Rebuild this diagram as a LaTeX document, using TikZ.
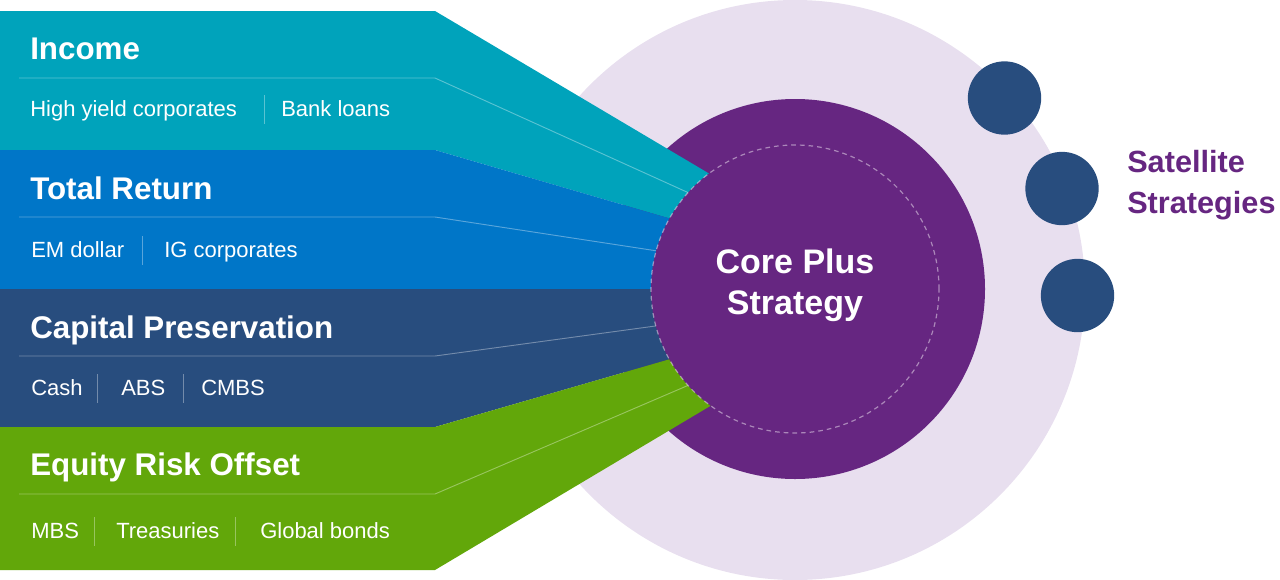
\documentclass[tikz,border=0pt]{standalone}
\usepackage{fontspec}
\setmainfont{Liberation Sans}
\usepackage{xcolor}
\usepackage{tikz}

\definecolor{incomecol}{HTML}{00A3BB}
\definecolor{returncol}{HTML}{0076C8}
\definecolor{capitalcol}{HTML}{284D7E}
\definecolor{equitycol}{HTML}{62A70A}
\definecolor{corecol}{HTML}{662681}
\definecolor{halocol}{HTML}{E8DFEF}

\tikzset{
  divider/.style={white, opacity=0.35, line width=0.7pt},
  sepline/.style={white, opacity=0.35, line width=0.7pt},
  title/.style={anchor=base west, inner sep=0pt, text=white, font=\fontsize{23.5}{28}\selectfont\bfseries},
  item/.style={anchor=base west, inner sep=0pt, text=white, font=\fontsize{16.5}{20}\selectfont},
  disc/.style={circle, inner sep=0pt, draw=none},
  coretext/.style={anchor=base, inner sep=0pt, text=white, font=\fontsize{25.5}{30}\selectfont\bfseries},
  sattext/.style={anchor=base west, inner sep=0pt, text=corecol, font=\fontsize{23}{28}\selectfont\bfseries},
}

\begin{document}
\begin{tikzpicture}[x=0.75pt, y=-0.75pt]
    \useasboundingbox (0,0) rectangle (1280,579);

    % Halo and satellites
    \node[disc, fill=halocol, minimum size=435pt] (halo) at (795,290) {};
    \node[disc, fill=capitalcol, minimum size=55pt] (sat1) at (1004.5,98) {};
    \node[disc, fill=capitalcol, minimum size=55pt] (sat2) at (1062,188.5) {};
    \node[disc, fill=capitalcol, minimum size=55pt] (sat3) at (1077.5,295.5) {};
    \node[sattext] (satA) at (1127,172) {Satellite};
    \node[sattext] (satB) at (1127,213) {Strategies};

    % Core
    \node[disc, fill=corecol, minimum size=285pt] (core) at (795,289) {};

    % Income
    \fill[incomecol] (0,11) -- (435,11) -- (795,224.5) -- (795,255) -- (435,150) -- (0,150) -- cycle;
    \draw[divider] (19,78) -- (435,78) -- (795,241);
    \node[title] (income) at (30,59) {Income};
    \node[item] (hyc) at (30,116) {High yield corporates};
    \draw[sepline] (264,95) -- (264,124);
    \node[item] (loans) at (281,116) {Bank loans};

    % Total Return
    \fill[returncol] (0,150) -- (435,150) -- (795,255) -- (795,289) -- (0,289) -- cycle;
    \draw[divider] (19,217) -- (435,217) -- (795,272);
    \node[title] (total) at (30,199) {Total Return};
    \node[item] (em) at (31,257) {EM dollar};
    \draw[sepline] (142,236) -- (142,265);
    \node[item] (ig) at (164,257) {IG corporates};

    % Capital Preservation
    \fill[capitalcol] (0,289) -- (795,289) -- (795,323) -- (435,427) -- (0,427) -- cycle;
    \draw[divider] (19,356) -- (435,356) -- (795,307);
    \node[title] (capital) at (30,338) {Capital Preservation};
    \node[item] (cash) at (31,395) {Cash};
    \draw[sepline] (97,374) -- (97,403);
    \node[item] (abs) at (121,395) {ABS};
    \draw[sepline] (183,374) -- (183,403);
    \node[item] (cmbs) at (201,395) {CMBS};

    % Equity Risk Offset
    \fill[equitycol] (0,427) -- (435,427) -- (795,323) -- (795,355.5) -- (435,570) -- (0,570) -- cycle;
    \draw[divider] (19,494) -- (435,494) -- (795,339.5);
    \node[title] (equity) at (30,475) {Equity Risk Offset};
    \node[item] (mbs) at (31,538) {MBS};
    \draw[sepline] (94,517) -- (94,546);
    \node[item] (tsy) at (116,538) {Treasuries};
    \draw[sepline] (235,517) -- (235,546);
    \node[item] (glob) at (260,538) {Global bonds};

    % Inner ring
    \node[disc, fill=corecol, minimum size=216pt] (inner) at (795,289) {};
    \node[disc, draw=white, draw opacity=0.45, dash pattern=on 3.5pt off 3pt, line width=0.9pt, minimum size=216pt] (ring) at (795,289) {};
    \node[coretext] (coreA) at (795,273) {Core Plus};
    \node[coretext] (coreB) at (795,314) {Strategy};
\end{tikzpicture}
\end{document}
